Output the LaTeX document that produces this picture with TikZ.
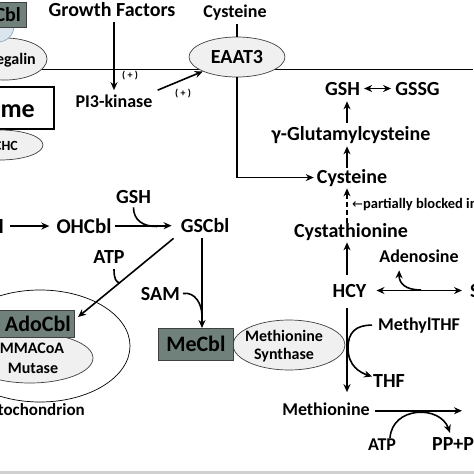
\documentclass[tikz,border=0pt]{standalone}
\usepackage{fontspec}
\setmainfont{Carlito}
\newfontfamily\symfont{DejaVu Sans}
\usetikzlibrary{arrows.meta,shapes.geometric}
\definecolor{boxgray}{RGB}{112,128,123}
\definecolor{ellfill}{RGB}{240,240,240}
\definecolor{bluefill}{RGB}{218,229,238}
\definecolor{blueline}{RGB}{140,160,180}
\definecolor{bandgray}{RGB}{208,208,208}
\begin{document}
\begin{tikzpicture}[x=1pt,y=-1pt,
  lbl/.style={font=\bfseries\fontsize{20}{22}\selectfont, inner sep=0pt, anchor=base},
  mid/.style={font=\bfseries\fontsize{18}{20}\selectfont, inner sep=0pt, anchor=base},
  small/.style={font=\bfseries\fontsize{16}{18}\selectfont, inner sep=0pt, anchor=base},
  tiny/.style={font=\bfseries\fontsize{14.5}{16}\selectfont, inner sep=0pt, anchor=base},
  plus/.style={font=\bfseries\fontsize{10}{12}\selectfont, inner sep=0pt},
  tip/.style={-{Stealth[length=8pt,width=7pt]}},
  arr/.style={line width=1.6pt, tip},
  dbl/.style={line width=1.6pt, {Stealth[length=8pt,width=7pt]}-{Stealth[length=8pt,width=7pt]}},
  ln/.style={line width=1.6pt},
  thin/.style={line width=0.7pt},
  grbox/.style={draw=black!75, line width=0.7pt, fill=boxgray, inner sep=0pt, font=\bfseries\fontsize{22}{24}\selectfont},
  oval/.style={ellipse, draw=black!75, line width=0.7pt, fill=ellfill, inner sep=0pt},
]
\useasboundingbox (0,0) rectangle (474,474);
\clip (0,0) rectangle (474,474);
\fill[white] (0,0) rectangle (474,474);
\coordinate (axis) at (347,0);
\coordinate (axisB) at (202,0);

% membrane
\coordinate (memL) at (0,69);
\coordinate (memR) at (473,69);
\draw[thin] (memL) -- (memR);

% top-left
\node[oval, minimum width=84, minimum height=42] (megalin) at (5,59) {};
\node[small, anchor=base east] (megtxt) at (36,64) {Megalin};
\node[circle, draw=blueline, fill=bluefill, line width=0.6pt, minimum size=32, inner sep=0pt] (blob) at (-2,26) {};
\node[grbox, anchor=north east, minimum width=60, minimum height=25] (cblbox) at (27,2) {};
\node[lbl, anchor=base east] (cbltxt) at (21,21) {Cbl};
\node[draw, line width=2pt, fill=white, anchor=north east, minimum width=80, minimum height=42, inner sep=0pt] (endobox) at (55,86) {};
\node[font=\bfseries\fontsize{26}{28}\selectfont, inner sep=0pt, anchor=base east] (endotxt) at (35,117) {Endosome};
\node[oval, minimum width=86, minimum height=30] (chc) at (0,145) {};
\node[font=\bfseries\fontsize{14}{16}\selectfont, inner sep=0pt, anchor=base east] (chctxt) at (18,150) {CHC};

% growth factors / EAAT3
\node[lbl] (gf) at (112,16) {Growth Factors};
\node[mid] (pik) at (114,107) {PI3-kinase};
\draw[arr, shorten <=6pt, shorten >=4pt] (pik.north |- gf.south) -- (pik.north);
\node[plus] (p1) at (130,76) {( + )};
\node[oval, minimum width=96, minimum height=40, font=\bfseries\fontsize{20}{22}\selectfont] (eaat) at (237,57) {EAAT3};
\draw[arr] ([shift={(5pt,4pt)}]pik.north east) -- (eaat.south west);
\node[plus] (p2) at (183,94) {( + )};
\node[mid] (cysT) at (235,17) {Cysteine};
\draw[ln, shorten <=4pt] (cysT.south -| eaat.north) -- (eaat.north);

% right column
\node[lbl] (cysR) at (352,183) {Cysteine};
\draw[arr, shorten >=3pt] (eaat.south) |- (cysR.west);
\node[lbl] (gshR) at (342.5,95) {GSH};
\node[lbl] (gssg) at (417.5,95) {GSSG};
\draw[dbl, shorten <=4pt, shorten >=4pt] (gshR.east) -- (gssg.west);
\node[lbl] (glu) at (351,140) {γ-Glutamylcysteine};
\draw[arr, shorten <=3pt, shorten >=6pt] (glu.north -| axis) -- (gshR.south -| axis);
\draw[arr, shorten <=1pt, shorten >=3pt] (cysR.north -| axis) -- (glu.south -| axis);
\node[lbl] (cysta) at (351,237) {Cystathionine};
\draw[arr, line width=2pt, dash pattern=on 5pt off 3pt, shorten >=2pt] (cysta.north -| axis) -- (cysR.south -| axis);
\node[tiny, anchor=base west] (blocked) at (352,208) {{\symfont\mdseries\fontsize{13}{15}\selectfont ←}partially blocked in};
\node[lbl] (hcy) at (349.5,297) {HCY};
\draw[arr, shorten <=9pt, shorten >=2pt] (hcy.north -| axis) -- (cysta.south -| axis);
\node[lbl, anchor=base west] (sah) at (470,297) {SAH};
\draw[dbl, shorten <=10pt, shorten >=8pt] (hcy.east) -- (hcy.east -| sah.west);
\node[mid] (adeno) at (419,262) {Adenosine};
\coordinate (adJ) at (421,290);
\draw[arr] (adJ) .. controls (405,290) and (399,283) .. ([shift={(20pt,-8pt)}]adeno.south west);

% methionine cycle
\node[mid, anchor=base west] (mthf) at (378,330) {MethylTHF};
\node[lbl, anchor=base west] (thf) at (373,387) {THF};
\node[oval, minimum width=112, minimum height=50] (ms) at (289,345) {};
\node[font=\bfseries\fontsize{16}{18}\selectfont, inner sep=0pt, align=center] (mstxt) at (284,346) {Methionine\\Synthase};
\node[mid] (meth) at (326,415) {Methionine};
\draw[arr, shorten <=11pt, shorten >=10pt] (hcy.south -| axis) -- (meth.north -| axis);
\coordinate (msbend) at (348,348);
\draw[ln, tip] ([xshift=-6pt]mthf.west) .. controls +(-16,0) and +(0,-16) .. (msbend) .. controls +(0,18) and +(-12,-4) .. ([shift={(-1pt,4pt)}]thf.west);
\coordinate (mEnd) at (462,410);
\draw[arr, shorten <=5pt] ([yshift=-2pt]meth.east) -- ([yshift=-2pt]meth.east -| mEnd);
\node[mid] (atpB) at (382,450) {ATP};
\node[lbl, anchor=base west] (ppi) at (432,450) {PP+P\textsubscript{i}};
\draw[arr] ([xshift=8pt]atpB.north) .. controls +(2,-32) and +(-10,-28) .. ([shift={(18pt,4pt)}]ppi.north west);

% left cobalamin pathway
\node[lbl, anchor=base east] (cnl) at (4,233) {Cbl};
\node[font=\bfseries\fontsize{21}{23}\selectfont, inner sep=0pt, anchor=base] (ohcbl) at (84,233) {OHCbl};
\draw[arr, shorten <=6pt, shorten >=7pt] (cnl.east) -- (cnl.east -| ohcbl.west);
\node[lbl] (gscbl) at (205,232) {GSCbl};
\draw[arr, shorten <=3pt, shorten >=9pt] (ohcbl.east) -- (ohcbl.east -| gscbl.west);
\node[lbl] (gshL) at (133.5,203) {GSH};
\coordinate (gshJ) at (157,226.5);
\draw[ln] ([yshift=-4pt]gshL.south) .. controls +(0,13) and +(-14,0) .. (gshJ);

% mitochondrion
\node[ellipse, draw, line width=0.7pt, minimum width=180, minimum height=112, inner sep=0pt] (mito) at (40,346) {};
\node[oval, minimum width=126, minimum height=50] (mma) at (30,358) {};
\node[small] (mmatxt) at (32,353) {MMACoA};
\node[small] (muttxt) at (33,373) {Mutase};
\node[font=\bfseries\fontsize{17}{19}\selectfont, inner sep=0pt, anchor=base east] (mitotxt) at (85,415) {Mitochondrion};
\node[grbox, anchor=north east, minimum width=90, minimum height=27] (adobox) at (75,310) {};
\node[font=\bfseries\fontsize{22}{24}\selectfont, inner sep=0pt, anchor=base east] (adotxt) at (71,331) {AdoCbl};
\draw[arr] ([shift={(-7pt,-6pt)}]gscbl.south west) -- ([shift={(3pt,-7pt)}]adobox.north east);
\node[lbl] (atpL) at (109,263) {ATP};
\coordinate (atpJ) at (120,283);
\draw[ln] ([shift={(5pt,-6pt)}]atpL.south) .. controls +(0,10) and +(-4,-1) .. (atpJ);

% MeCbl
\node[lbl, anchor=base east] (sam) at (180,300) {SAM};
\node[grbox, minimum width=75, minimum height=32, anchor=north west] (mecbl) at (158,328) {MeCbl};
\draw[arr, shorten <=6pt] (gscbl.south -| axisB) -- (mecbl.north -| axisB);
\coordinate (samJ) at (202,316);
\draw[ln] ([xshift=3pt]sam.east) .. controls +(12,-2) and +(0,-12) .. (samJ);

% bottom band
\fill[bandgray] (0,471) rectangle (474,474);
\end{tikzpicture}
\end{document}
